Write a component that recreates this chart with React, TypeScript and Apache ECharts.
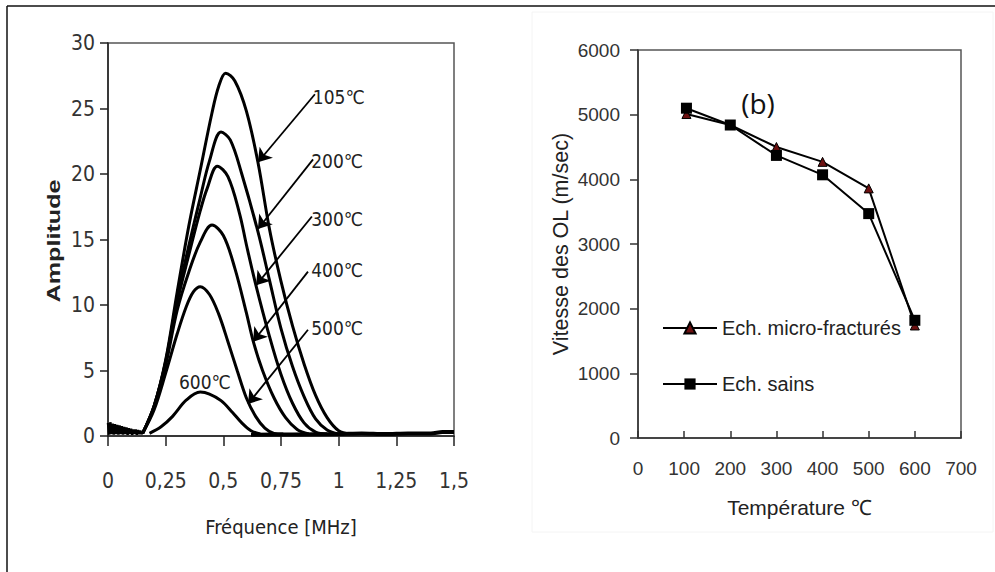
import React, { useEffect, useRef } from "react";
import * as echarts from "echarts";

// ---- Left panel: amplitude spectra vs frequency ----
const freqTickValues = [0, 0.25, 0.5, 0.75, 1, 1.25, 1.5];
const freqTickLabels = ["0", "0,25", "0,5", "0,75", "1", "1,25", "1,5"];
const ampTickValues = [0, 5, 10, 15, 20, 25, 30];

const spectrum105 = [
  [0.15, 0.2], [0.2, 2.3], [0.25, 5.8], [0.3, 11.0], [0.35, 16.0], [0.4, 20.3],
  [0.45, 24.6], [0.48, 26.7], [0.51, 27.7], [0.55, 27.1], [0.6, 24.8], [0.65, 20.9],
  [0.7, 15.8], [0.75, 11.8], [0.8, 8.4], [0.85, 5.5], [0.9, 3.1], [0.95, 1.4],
  [1.0, 0.4], [1.05, 0.15],
];
const spectrum200 = [
  [0.15, 0.2], [0.2, 2.3], [0.25, 5.7], [0.3, 10.5], [0.35, 14.5], [0.4, 18.2],
  [0.44, 21.0], [0.49, 23.2], [0.53, 22.6], [0.58, 20.0], [0.65, 15.6], [0.7, 11.9],
  [0.75, 8.2], [0.8, 5.3], [0.85, 3.0], [0.9, 1.3], [0.95, 0.45], [1.0, 0.15],
];
const spectrum300 = [
  [0.15, 0.2], [0.2, 2.3], [0.25, 5.6], [0.3, 10.2], [0.35, 13.8], [0.4, 17.2],
  [0.43, 18.9], [0.474, 20.6], [0.52, 19.8], [0.57, 17.0], [0.6, 14.6], [0.64, 11.6],
  [0.7, 7.6], [0.75, 4.7], [0.8, 2.5], [0.85, 1.0], [0.9, 0.3], [0.95, 0.15],
];
const spectrum400 = [
  [0.15, 0.2], [0.2, 2.2], [0.25, 5.4], [0.3, 9.6], [0.35, 12.5], [0.4, 14.8],
  [0.451, 16.1], [0.5, 15.3], [0.55, 12.8], [0.6, 9.4], [0.63, 7.2], [0.67, 5.0],
  [0.72, 2.9], [0.77, 1.4], [0.82, 0.5], [0.87, 0.15],
];
const spectrum500 = [
  [0.15, 0.2], [0.2, 2.0], [0.25, 4.8], [0.3, 7.8], [0.34, 9.9], [0.37, 11.0],
  [0.4, 11.4], [0.44, 10.8], [0.48, 9.3], [0.52, 7.2], [0.56, 5.0], [0.6, 2.9],
  [0.64, 1.5], [0.68, 0.6], [0.72, 0.2], [0.76, 0.15],
];
const spectrum600 = [
  [0.18, 0.2], [0.23, 0.7], [0.28, 1.5], [0.34, 2.75], [0.4, 3.35], [0.44, 3.2],
  [0.49, 2.7], [0.54, 1.8], [0.58, 1.0], [0.62, 0.4], [0.66, 0.15],
];
// low-frequency noise before the pulse and the flat residual after it
const noiseStart = [
  [0, 1.0], [0.005, 0.1], [0.01, 1.05], [0.015, 0.15], [0.02, 0.95], [0.025, 0.1],
  [0.03, 0.9], [0.035, 0.15], [0.04, 0.85], [0.045, 0.1], [0.05, 0.8], [0.055, 0.15],
  [0.06, 0.75], [0.065, 0.1], [0.07, 0.7], [0.075, 0.15], [0.08, 0.65], [0.085, 0.1],
  [0.09, 0.6], [0.095, 0.15], [0.1, 0.55], [0.105, 0.1], [0.11, 0.5], [0.115, 0.15],
  [0.12, 0.5], [0.125, 0.1], [0.13, 0.45], [0.135, 0.15], [0.14, 0.4], [0.145, 0.15],
  [0.15, 0.3],
];
const residualTail = [
  [0.62, 0.1], [0.8, 0.12], [1.0, 0.15], [1.1, 0.2], [1.2, 0.15], [1.3, 0.2],
  [1.4, 0.2], [1.45, 0.3], [1.5, 0.3],
];

const spectra = [
  { name: "105℃", data: spectrum105 },
  { name: "200℃", data: spectrum200 },
  { name: "300℃", data: spectrum300 },
  { name: "400℃", data: spectrum400 },
  { name: "500℃", data: spectrum500 },
  { name: "600℃", data: spectrum600 },
];

// temperature tags (data units) and the arrows pointing to each curve
const curveTags = [
  { text: "105℃", at: [1.0, 25.9], from: [0.897, 26.09], to: [0.65, 20.9] },
  { text: "200℃", at: [0.993, 20.96], from: [0.889, 21.12], to: [0.65, 15.8] },
  { text: "300℃", at: [0.993, 16.53], from: [0.884, 16.76], to: [0.642, 11.5] },
  { text: "400℃", at: [0.993, 12.7], from: [0.867, 12.55], to: [0.629, 7.2] },
  { text: "500℃", at: [0.993, 8.26], from: [0.867, 8.11], to: [0.607, 2.45] },
  { text: "600℃", at: [0.42, 4.13], from: null, to: null },
];

// ---- Right panel: wave velocity vs temperature ----
const temperatures = [105, 200, 300, 400, 500, 600];
const vitesseMicroFractures = [5010, 4840, 4500, 4270, 3860, 1740];
const vitesseSains = [5100, 4840, 4370, 4070, 3470, 1820];
const tempTickValues = [0, 100, 200, 300, 400, 500, 600, 700];
const vitesseTickValues = [0, 1000, 2000, 3000, 4000, 5000, 6000];

const NARROW = "'Liberation Sans Narrow', 'DejaVu Sans Condensed', 'Liberation Sans', sans-serif";
const ARIAL = "'Liberation Sans', Arial, sans-serif";

function buildOption() {
  const curveSeries = spectra.map((s) => ({
    name: s.name,
    type: "line",
    xAxisIndex: 0,
    yAxisIndex: 0,
    data: s.data,
    symbol: "none",
    smooth: 0.35,
    lineStyle: { color: "#000", width: 3 },
    z: 3,
  }));

  const arrows = curveTags
    .filter((t) => t.from && t.to)
    .map((t) => [{ coord: t.from }, { coord: t.to }]);

  const tags = curveTags.map((t) => ({
    coord: t.at,
    value: t.text,
    symbol: "rect",
    symbolSize: 1,
    itemStyle: { color: "rgba(0,0,0,0)" },
    label: {
      show: true,
      position: "inside",
      formatter: t.text,
      color: "#222",
      fontSize: 19,
      fontFamily: NARROW,
    },
  }));

  return {
    animation: false,
    backgroundColor: "#fff",
    grid: [
      { left: 108, top: 43, width: 346, height: 393, show: true, borderColor: "#555", borderWidth: 1.5 },
      { left: 638, top: 50, width: 323, height: 388, show: true, borderColor: "#555", borderWidth: 1.5 },
    ],
    legend: {
      show: true,
      orient: "vertical",
      left: 662,
      top: 318,
      padding: 0,
      itemWidth: 54,
      itemHeight: 14,
      itemGap: 36,
      data: ["Ech. micro-fracturés", "Ech. sains"],
      textStyle: { fontSize: 20, color: "#222", fontFamily: ARIAL },
    },
    xAxis: [
      {
        gridIndex: 0,
        type: "value",
        min: 0,
        max: 1.5,
        interval: 0.25,
        axisLine: { show: true, onZero: false, lineStyle: { color: "#222", width: 1.5 } },
        axisTick: { show: true, inside: false, length: 10, lineStyle: { color: "#222", width: 1.5 } },
        splitLine: { show: false },
        axisLabel: {
          margin: 34,
          fontSize: 21,
          color: "#333",
          fontFamily: NARROW,
          formatter: (v: number) => {
            const i = freqTickValues.indexOf(v);
            return i >= 0 ? freqTickLabels[i] : "";
          },
        },
        name: "Fréquence [MHz]",
        nameLocation: "middle",
        nameGap: 81,
        nameTextStyle: { fontSize: 20, color: "#222", fontFamily: NARROW },
      },
      {
        gridIndex: 1,
        type: "value",
        min: 0,
        max: 700,
        interval: 100,
        axisLine: { show: true, onZero: false, lineStyle: { color: "#333", width: 1.5 } },
        axisTick: { show: true, inside: true, length: 7, lineStyle: { color: "#333", width: 1.5 } },
        splitLine: { show: false },
        axisLabel: {
          margin: 21,
          fontSize: 19,
          color: "#333",
          fontFamily: ARIAL,
          formatter: (v: number) => (tempTickValues.includes(v) ? String(v) : ""),
        },
        name: "Température ℃",
        nameLocation: "middle",
        nameGap: 59,
        nameTextStyle: { fontSize: 21, color: "#222", fontFamily: ARIAL },
      },
    ],
    yAxis: [
      {
        gridIndex: 0,
        type: "value",
        min: 0,
        max: 30,
        interval: 5,
        axisLine: { show: true, onZero: false, lineStyle: { color: "#222", width: 1.5 } },
        axisTick: { show: true, inside: false, length: 8, lineStyle: { color: "#222", width: 1.5 } },
        splitLine: { show: false },
        axisLabel: {
          margin: 13,
          fontSize: 21,
          color: "#333",
          fontFamily: NARROW,
          formatter: (v: number) => (ampTickValues.includes(v) ? String(v) : ""),
        },
      },
      {
        gridIndex: 1,
        type: "value",
        min: 0,
        max: 6000,
        interval: 1000,
        axisLine: { show: true, onZero: false, lineStyle: { color: "#333", width: 1.5 } },
        axisTick: { show: true, inside: false, length: 8, lineStyle: { color: "#333", width: 1.5 } },
        splitLine: { show: false },
        axisLabel: {
          margin: 18,
          fontSize: 19,
          color: "#333",
          fontFamily: ARIAL,
          formatter: (v: number) => (vitesseTickValues.includes(v) ? String(v) : ""),
        },
        name: "Vitesse des OL (m/sec)",
        nameLocation: "middle",
        nameGap: 66,
        nameTextStyle: { fontSize: 21.5, color: "#222", fontFamily: ARIAL },
      },
    ],
    series: [
      {
        name: "bruit",
        type: "line",
        xAxisIndex: 0,
        yAxisIndex: 0,
        data: noiseStart,
        symbol: "none",
        lineStyle: { color: "#000", width: 2.5 },
        z: 3,
      },
      {
        name: "résidu",
        type: "line",
        xAxisIndex: 0,
        yAxisIndex: 0,
        data: residualTail,
        symbol: "none",
        smooth: 0.3,
        lineStyle: { color: "#000", width: 4 },
        z: 3,
        markLine: {
          silent: true,
          symbol: ["none", "arrow"],
          symbolSize: 13,
          lineStyle: { color: "#000", width: 1.8, type: "solid" },
          label: { show: false },
          emphasis: { disabled: true },
          data: arrows,
        },
        markPoint: {
          silent: true,
          data: tags,
        },
      },
      ...curveSeries,
      {
        name: "Ech. micro-fracturés",
        type: "line",
        xAxisIndex: 1,
        yAxisIndex: 1,
        data: temperatures.map((t, i) => [t, vitesseMicroFractures[i]]),
        symbol: "triangle",
        symbolSize: 9,
        itemStyle: { color: "#6b1010", borderColor: "#000", borderWidth: 1 },
        lineStyle: { color: "#000", width: 2 },
        z: 3,
      },
      {
        name: "Ech. sains",
        type: "line",
        xAxisIndex: 1,
        yAxisIndex: 1,
        data: temperatures.map((t, i) => [t, vitesseSains[i]]),
        symbol: "rect",
        symbolSize: 11,
        itemStyle: { color: "#000" },
        lineStyle: { color: "#000", width: 2 },
        z: 4,
      },
    ],
    graphic: [
      // outer frame (top and left edges)
      { type: "line", shape: { x1: 7, y1: 6, x2: 995, y2: 6 }, style: { stroke: "#111", lineWidth: 1.5 }, silent: true },
      { type: "line", shape: { x1: 7, y1: 6, x2: 7, y2: 572 }, style: { stroke: "#111", lineWidth: 1.5 }, silent: true },
      // faint panel outline behind the right chart
      { type: "rect", shape: { x: 532, y: 12, width: 461, height: 520 }, style: { fill: "none", stroke: "#f4f4f4", lineWidth: 1 }, silent: true, z: -1 },
      {
        type: "text",
        x: 54,
        y: 241,
        rotation: Math.PI / 2,
        scaleX: 1.4,
        style: {
          text: "Amplitude",
          fontSize: 18,
          fontWeight: "bold",
          fontFamily: ARIAL,
          fill: "#222",
          align: "center",
          verticalAlign: "middle",
        },
        silent: true,
      },
      {
        type: "text",
        x: 758,
        y: 103,
        style: {
          text: "(b)",
          fontSize: 28,
          fontFamily: "'Open Sans', sans-serif",
          fill: "#111",
          align: "center",
          verticalAlign: "middle",
        },
        silent: true,
      },
    ],
  };
}

export default function App() {
  const ref = useRef<HTMLDivElement>(null);
  useEffect(() => {
    document.body.style.margin = "0";
    const chart = echarts.init(ref.current!, null, { renderer: "svg" });
    chart.setOption(buildOption() as any);
    return () => chart.dispose();
  }, []);
  return <div ref={ref} style={{ width: 995, height: 572, background: "#fff" }} />;
}
